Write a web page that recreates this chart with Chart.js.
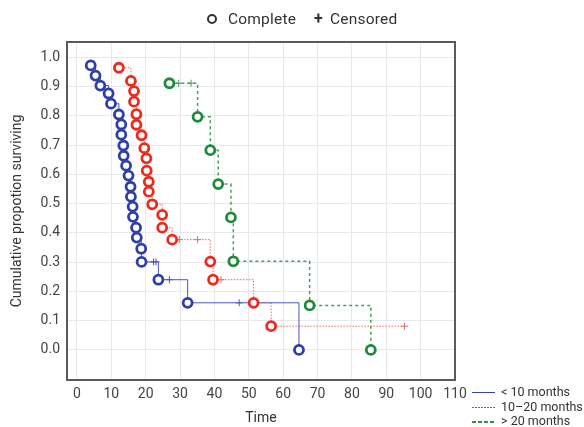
<!DOCTYPE html>
<html>
<head>
<meta charset="utf-8">
<script src="https://cdn.jsdelivr.net/npm/chart.js@4"></script>
<style>
  body { margin: 0; background: #fff; font-family: Roboto, sans-serif; color: #333; }
  #wrap { position: relative; width: 584px; height: 427px; }
  .top-legend { position: absolute; top: 9px; left: 207px; font-size: 15.5px; letter-spacing: 0.2px; white-space: nowrap; }
  .top-legend span { display: inline-block; vertical-align: middle; }
  .ring { width: 6px; height: 6px; border: 2px solid #333; border-radius: 50%; margin-right: 11px; }
  .plus { font-weight: bold; font-size: 16px; margin: 0 7px 0 18px; }
  .side-legend { position: absolute; left: 472px; top: 385px; font-size: 12.5px; line-height: 14.5px; }
  .side-legend div { white-space: nowrap; }
  .side-legend i { display: inline-block; width: 23px; vertical-align: middle; margin-right: 6px; }
  .s1 { height: 1px; background: #3340b8; }
  .s2 { height: 1px; background: repeating-linear-gradient(90deg, #e83a30 0 2px, transparent 2px 3px); }
  .s3 { height: 2px; background: repeating-linear-gradient(90deg, #2e9444 0 4px, transparent 4px 6px); }
</style>
</head>
<body>
<div id="wrap">
  <canvas id="chart" width="584" height="427"></canvas>
  <div class="top-legend"><span class="ring"></span><span>Complete</span><span class="plus">+</span><span>Censored</span></div>
  <div class="side-legend">
    <div><i class="s1"></i>&lt; 10 months</div>
    <div><i class="s2"></i>10–20 months</div>
    <div><i class="s3"></i>&gt; 20 months</div>
  </div>
</div>
<script>
// Kaplan-Meier curves
const groups = ['< 10 months', '10–20 months', '> 20 months'];

const blueEventT = [4.0, 5.4, 6.8, 9.2, 9.9, 12.2, 12.9, 12.9, 13.5, 13.6, 14.3, 15.0, 15.6, 15.7, 16.2, 16.3, 17.2, 17.4, 18.7, 18.8, 23.7, 32.2, 64.6];
const blueEventS = [0.973, 0.938, 0.904, 0.877, 0.842, 0.805, 0.771, 0.736, 0.699, 0.664, 0.630, 0.596, 0.558, 0.524, 0.490, 0.455, 0.418, 0.384, 0.346, 0.301, 0.240, 0.161, 0.0];
const blueCensT = [22.3, 23.0, 26.9, 47.2];
const blueCensS = [0.301, 0.301, 0.240, 0.161];

const redEventT = [12.2, 15.7, 16.6, 16.6, 17.3, 17.3, 18.8, 19.6, 20.2, 20.3, 20.9, 20.9, 21.9, 24.8, 24.8, 27.7, 38.8, 39.6, 51.4, 56.5];
const redEventS = [0.965, 0.920, 0.885, 0.849, 0.806, 0.770, 0.734, 0.690, 0.655, 0.613, 0.575, 0.541, 0.498, 0.462, 0.418, 0.377, 0.302, 0.240, 0.161, 0.081];
const redCensT = [29.8, 35.1, 41.9, 95.3];
const redCensS = [0.377, 0.377, 0.240, 0.081];

const greenEventT = [26.9, 35.1, 38.8, 41.1, 44.8, 45.5, 67.7, 85.5];
const greenEventS = [0.912, 0.797, 0.683, 0.567, 0.453, 0.303, 0.152, 0.0];
const greenCensT = [29.6, 33.2];
const greenCensS = [0.912, 0.912];

const xTicks = [0, 10, 20, 30, 40, 50, 60, 70, 80, 90, 100, 110];
const yTicks = [0, 0.1, 0.2, 0.3, 0.4, 0.5, 0.6, 0.7, 0.8, 0.9, 1.0];

const pts = (t, s) => t.map((v, i) => ({ x: v, y: s[i] }));
const steps = (et, es, ct, cs) => pts(et, es).concat(pts(ct, cs)).sort((a, b) => a.x - b.x);

function curve(label, et, es, ct, cs, lineCol, dotCol, dash, lw) {
    return [
        { label: label, data: steps(et, es, ct, cs), showLine: true, stepped: true, borderColor: lineCol, borderWidth: lw, borderDash: dash, pointRadius: 0, order: 3 },
        { label: label + ' complete', data: pts(et, es), pointStyle: 'circle', pointRadius: 4.5, pointBorderWidth: 2.8, borderColor: dotCol, backgroundColor: '#fff', showLine: false, order: 1 },
        { label: label + ' censored', data: pts(ct, cs), pointStyle: 'cross', pointRadius: 3.5, pointBorderWidth: 1, borderColor: lineCol, showLine: false, order: 2 }
    ];
}

const datasets = [].concat(
    curve(groups[0], blueEventT, blueEventS, blueCensT, blueCensS, '#4b55c6', '#2f3fa8', [], 1),
    curve(groups[1], redEventT, redEventS, redCensT, redCensS, '#ec6a62', '#ee2a1e', [1.5, 1.5], 1),
    curve(groups[2], greenEventT, greenEventS, greenCensT, greenCensS, '#4a9e58', '#1f8a3c', [3, 3], 1.5)
);

// frame around the plot area
const frame = {
    id: 'frame',
    afterDatasetsDraw(c) {
        const a = c.chartArea, ctx = c.ctx;
        ctx.save(); ctx.strokeStyle = '#5a5a5a'; ctx.lineWidth = 2;
        ctx.strokeRect(a.left, a.top, a.right - a.left, a.bottom - a.top);
        ctx.restore();
    }
};

const font = { family: 'Roboto', size: 14 };

new Chart(document.getElementById('chart'), {
    type: 'scatter',
    data: { datasets: datasets },
    options: {
        responsive: false, animation: false,
        layout: { padding: { top: 42, right: 129, left: 0, bottom: 0 } },
        plugins: { legend: { display: false }, tooltip: { enabled: false } },
        scales: {
            x: {
                type: 'linear', min: -2.9, max: 110,
                afterBuildTicks: s => { s.ticks = xTicks.map(v => ({ value: v })); },
                afterFit: s => { s.height = 47; },
                grid: { color: '#e6e8ec', drawTicks: false },
                border: { display: false },
                ticks: { font: font, color: '#444', padding: 6, maxRotation: 0 },
                title: { display: true, text: 'Time', font: font, color: '#333', padding: { top: 0, bottom: 0 } }
            },
            y: {
                type: 'linear', min: -0.103, max: 1.053,
                afterBuildTicks: s => { s.ticks = yTicks.map(v => ({ value: v })); },
                afterFit: s => { s.width = 67; },
                grid: { color: '#e6e8ec', drawTicks: false },
                border: { display: false },
                ticks: { font: font, color: '#444', padding: 7, callback: v => v.toFixed(1) },
                title: { display: true, text: 'Cumulative propotion surviving', font: font, color: '#333', padding: { top: 9, bottom: 0 } }
            }
        }
    },
    plugins: [frame]
});
</script>
</body>
</html>
